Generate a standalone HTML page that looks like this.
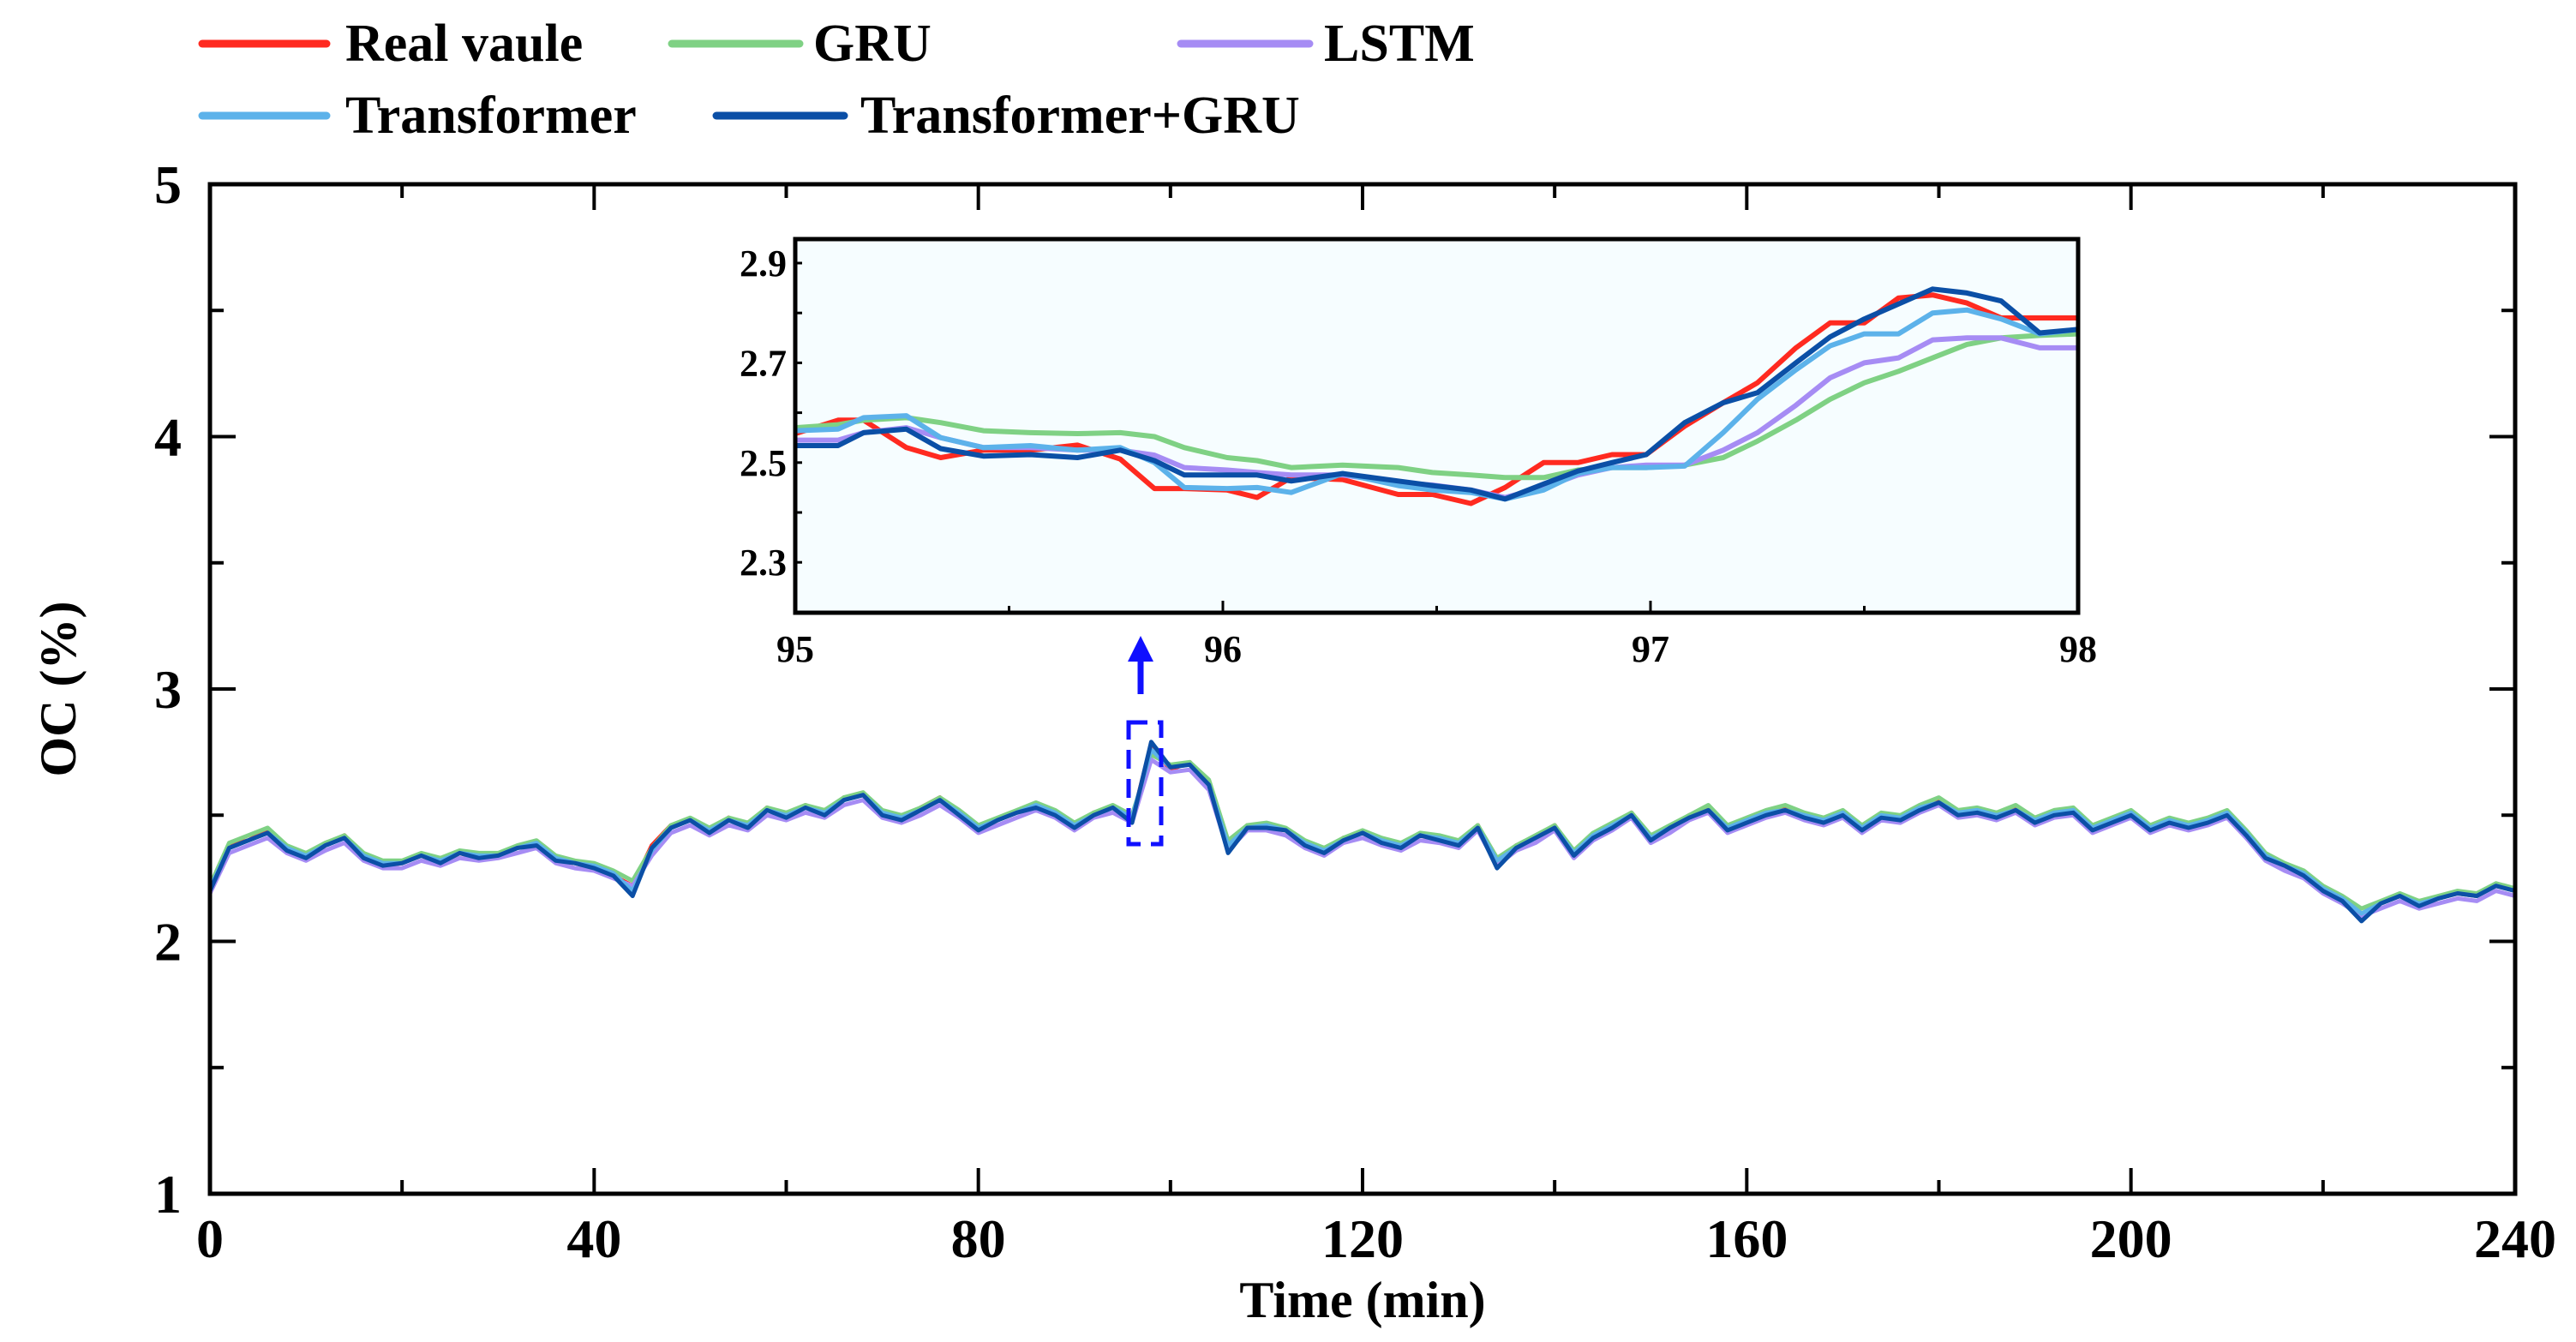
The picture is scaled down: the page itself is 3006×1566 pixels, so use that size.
<!DOCTYPE html>
<html><head><meta charset="utf-8">
<style>
html,body{margin:0;padding:0;background:#fff;}
svg{display:block;font-family:"Liberation Serif",serif;font-weight:bold;}
</style></head>
<body>
<svg id="chart" width="3006" height="1566" viewBox="0 0 3006 1566" xmlns="http://www.w3.org/2000/svg">
<defs>
<clipPath id="mainClip"><rect x="245" y="215" width="2690" height="1178"/></clipPath>
<clipPath id="insetClip"><rect x="928" y="279" width="1497" height="436"/></clipPath>
</defs>
<g id="legend">
<g><line x1="236" y1="51" x2="381" y2="51" stroke="#ff2a20" stroke-width="9" stroke-linecap="round"/><text x="403" y="71" font-size="62">Real vaule</text></g>
<g><line x1="784" y1="51" x2="933" y2="51" stroke="#7fd184" stroke-width="9" stroke-linecap="round"/><text x="949" y="71" font-size="62">GRU</text></g>
<g><line x1="1378" y1="51" x2="1528" y2="51" stroke="#a68cf4" stroke-width="9" stroke-linecap="round"/><text x="1545" y="71" font-size="62">LSTM</text></g>
<g><line x1="236" y1="135" x2="381" y2="135" stroke="#5cb2ea" stroke-width="9" stroke-linecap="round"/><text x="403" y="155" font-size="62">Transformer</text></g>
<g><line x1="836" y1="135" x2="985" y2="135" stroke="#0b4fa6" stroke-width="9" stroke-linecap="round"/><text x="1004" y="155" font-size="62">Transformer+GRU</text></g>
</g>
<g id="mainSeries" clip-path="url(#mainClip)"></g>
<g id="mainAxes"></g>
<rect x="928" y="279" width="1497" height="436" fill="#f6fdff"/>
<g id="insetSeries" clip-path="url(#insetClip)"></g>
<g id="insetAxes"></g>
<rect x="1317" y="843" width="38" height="142" fill="none" stroke="#1010ff" stroke-width="5" stroke-dasharray="22,12"/>
<g>
<line x1="1331" y1="810" x2="1331" y2="765" stroke="#1010ff" stroke-width="7"/>
<polygon points="1316,772 1346,772 1331,742" fill="#1010ff"/>
</g>
<text transform="translate(88,804) rotate(-90)" text-anchor="middle" font-size="60">OC (%)</text>
<text x="1590" y="1537" text-anchor="middle" font-size="60">Time (min)</text>
</svg>
<script>
const NS="http://www.w3.org/2000/svg";
// main chart data (time step 2 min)
const timeStart=0, timeStep=2;
const realVals=[2.20,2.38,2.40,2.44,2.36,2.33,2.38,2.42,2.33,2.30,2.31,2.34,2.31,2.35,2.33,2.34,2.37,2.39,2.32,2.31,2.29,2.26,2.22,2.38,2.46,2.48,2.43,2.49,2.45,2.53,2.49,2.54,2.50,2.57,2.58,2.50,2.48,2.53,2.57,2.50,2.44,2.48,2.51,2.54,2.50,2.45,2.51,2.53,2.48,2.78,2.68,2.71,2.62,2.36,2.46,2.45,2.44,2.38,2.35,2.41,2.43,2.39,2.37,2.42,2.40,2.38,2.46,2.30,2.38,2.41,2.46,2.34,2.42,2.46,2.51,2.40,2.45,2.50,2.53,2.44,2.48,2.51,2.53,2.50,2.47,2.51,2.44,2.50,2.48,2.53,2.56,2.50,2.52,2.49,2.53,2.47,2.50,2.52,2.44,2.48,2.50,2.44,2.48,2.45,2.48,2.51,2.42,2.33,2.30,2.26,2.20,2.16,2.10,2.15,2.18,2.14,2.17,2.19,2.18,2.22,2.20];
const gruVals=[2.22,2.39,2.42,2.45,2.38,2.35,2.39,2.42,2.35,2.32,2.32,2.35,2.33,2.36,2.35,2.35,2.38,2.40,2.34,2.32,2.31,2.28,2.24,2.37,2.46,2.49,2.45,2.49,2.47,2.53,2.51,2.54,2.52,2.57,2.59,2.52,2.50,2.53,2.57,2.52,2.46,2.49,2.52,2.55,2.52,2.47,2.51,2.54,2.50,2.74,2.70,2.71,2.64,2.40,2.46,2.47,2.45,2.40,2.37,2.41,2.44,2.41,2.39,2.43,2.42,2.40,2.46,2.33,2.38,2.42,2.46,2.36,2.43,2.47,2.51,2.42,2.46,2.50,2.54,2.46,2.49,2.52,2.54,2.51,2.49,2.52,2.46,2.51,2.50,2.54,2.57,2.52,2.53,2.51,2.54,2.49,2.52,2.53,2.46,2.49,2.52,2.46,2.49,2.47,2.49,2.52,2.44,2.35,2.31,2.28,2.22,2.18,2.13,2.16,2.19,2.16,2.18,2.20,2.19,2.23,2.21];
const lstmVals=[2.19,2.35,2.38,2.41,2.35,2.32,2.36,2.39,2.32,2.29,2.29,2.32,2.30,2.33,2.32,2.33,2.35,2.37,2.31,2.29,2.28,2.25,2.22,2.34,2.43,2.46,2.42,2.46,2.44,2.50,2.48,2.51,2.49,2.54,2.56,2.49,2.47,2.50,2.54,2.49,2.43,2.46,2.49,2.52,2.49,2.44,2.49,2.51,2.47,2.72,2.67,2.68,2.60,2.36,2.44,2.44,2.42,2.37,2.34,2.39,2.41,2.38,2.36,2.40,2.39,2.37,2.44,2.30,2.36,2.39,2.44,2.33,2.40,2.44,2.49,2.39,2.43,2.48,2.51,2.43,2.46,2.49,2.51,2.48,2.46,2.49,2.43,2.48,2.47,2.51,2.54,2.49,2.50,2.48,2.51,2.46,2.49,2.50,2.43,2.46,2.49,2.43,2.46,2.44,2.46,2.49,2.41,2.32,2.28,2.25,2.19,2.15,2.10,2.13,2.16,2.13,2.15,2.17,2.16,2.20,2.18];
const transVals=[2.21,2.37,2.40,2.43,2.37,2.34,2.38,2.41,2.34,2.31,2.31,2.34,2.32,2.35,2.34,2.34,2.37,2.39,2.33,2.31,2.30,2.27,2.20,2.36,2.45,2.48,2.44,2.48,2.46,2.52,2.50,2.53,2.51,2.56,2.58,2.51,2.49,2.52,2.56,2.51,2.45,2.48,2.51,2.54,2.51,2.46,2.50,2.53,2.49,2.76,2.69,2.70,2.62,2.38,2.45,2.46,2.44,2.39,2.36,2.40,2.43,2.40,2.38,2.42,2.41,2.39,2.45,2.32,2.37,2.41,2.45,2.35,2.42,2.46,2.50,2.41,2.45,2.49,2.52,2.45,2.48,2.51,2.52,2.50,2.48,2.51,2.45,2.50,2.49,2.53,2.55,2.51,2.52,2.50,2.52,2.48,2.51,2.52,2.45,2.48,2.51,2.45,2.48,2.46,2.48,2.51,2.43,2.34,2.30,2.27,2.21,2.17,2.11,2.15,2.18,2.15,2.17,2.19,2.18,2.22,2.20];
const tgruVals=[2.20,2.37,2.40,2.43,2.36,2.33,2.38,2.41,2.33,2.30,2.31,2.34,2.31,2.35,2.33,2.34,2.37,2.38,2.32,2.31,2.29,2.26,2.18,2.37,2.45,2.48,2.43,2.48,2.45,2.52,2.49,2.53,2.50,2.56,2.58,2.50,2.48,2.52,2.56,2.50,2.44,2.48,2.51,2.53,2.50,2.45,2.50,2.53,2.47,2.79,2.69,2.70,2.62,2.35,2.45,2.45,2.44,2.38,2.35,2.40,2.43,2.39,2.37,2.42,2.40,2.38,2.45,2.29,2.37,2.41,2.45,2.34,2.41,2.45,2.50,2.40,2.45,2.49,2.52,2.44,2.47,2.50,2.52,2.49,2.47,2.50,2.44,2.49,2.48,2.52,2.55,2.50,2.51,2.49,2.52,2.47,2.50,2.51,2.44,2.47,2.50,2.44,2.47,2.45,2.47,2.50,2.42,2.33,2.30,2.26,2.20,2.16,2.08,2.15,2.18,2.14,2.17,2.19,2.18,2.22,2.20];
const xTicks=[0,40,80,120,160,200,240];
const yTicks=[1,2,3,4,5];
// inset data
const insetTimes=[95.00,95.10,95.16,95.26,95.34,95.44,95.55,95.66,95.76,95.84,95.91,96.01,96.08,96.16,96.28,96.41,96.49,96.58,96.66,96.75,96.83,96.91,96.99,97.08,97.17,97.25,97.34,97.42,97.50,97.58,97.66,97.74,97.82,97.91,98.00];
const insetReal=[2.558,2.585,2.585,2.53,2.51,2.525,2.525,2.535,2.507,2.448,2.448,2.445,2.43,2.47,2.466,2.436,2.436,2.418,2.45,2.5,2.5,2.516,2.516,2.573,2.62,2.66,2.73,2.78,2.78,2.83,2.836,2.82,2.79,2.79,2.79];
const insetGru=[2.57,2.576,2.585,2.59,2.58,2.564,2.56,2.558,2.56,2.552,2.53,2.51,2.504,2.49,2.495,2.49,2.48,2.475,2.47,2.47,2.485,2.49,2.49,2.495,2.51,2.543,2.585,2.627,2.66,2.683,2.71,2.737,2.75,2.755,2.758];
const insetLstm=[2.545,2.545,2.56,2.57,2.55,2.53,2.53,2.525,2.525,2.515,2.49,2.485,2.48,2.475,2.475,2.46,2.455,2.445,2.43,2.45,2.475,2.49,2.495,2.495,2.525,2.56,2.615,2.67,2.70,2.71,2.746,2.75,2.75,2.73,2.73];
const insetTrans=[2.564,2.567,2.59,2.594,2.55,2.53,2.534,2.525,2.53,2.50,2.45,2.448,2.45,2.44,2.478,2.454,2.445,2.44,2.427,2.445,2.478,2.49,2.49,2.493,2.56,2.627,2.686,2.734,2.758,2.758,2.80,2.806,2.788,2.758,2.767];
const insetTgru=[2.534,2.534,2.56,2.567,2.528,2.513,2.516,2.51,2.525,2.504,2.475,2.475,2.475,2.463,2.478,2.463,2.454,2.445,2.427,2.457,2.483,2.50,2.516,2.58,2.62,2.64,2.70,2.752,2.788,2.818,2.848,2.84,2.824,2.76,2.767];
const insetXTicks=[95,96,97,98];
const insetYTicks=[2.3,2.5,2.7,2.9];

const X=t=>245+(t/240)*2690;
const Y=v=>1393-(v-1)*294.5;
const IX=m=>928+(m-95)/3*1497;
const IY=v=>307+(2.9-v)*582;

function mk(tag,attrs,parent){const e=document.createElementNS(NS,tag);for(const k in attrs)e.setAttribute(k,attrs[k]);parent.appendChild(e);return e;}

const mainG=document.getElementById('mainSeries');
const series=[["real-value-line",realVals,"#ff2a20"],["gru-line",gruVals,"#7fd184"],["lstm-line",lstmVals,"#a68cf4"],["transformer-line",transVals,"#5cb2ea"],["transformer-gru-line",tgruVals,"#0b4fa6"]];
series.forEach(s=>{
  const pts=s[1].map((v,i)=>X(timeStart+i*timeStep).toFixed(1)+","+Y(v).toFixed(1)).join(" ");
  const p=mk('polyline',{points:pts,fill:"none",stroke:s[2],"stroke-width":5,"stroke-linejoin":"round"},mainG);
  
  
});
const ax=document.getElementById('mainAxes');
const frame=mk('rect',{x:245,y:215,width:2690,height:1178,fill:"none",stroke:"#000","stroke-width":5},ax);


for(let t=0;t<=240;t+=20){
  const major=t%40===0, L=major?30:16;
  mk('line',{x1:X(t),y1:1393,x2:X(t),y2:1393-L,stroke:"#000","stroke-width":4},ax);
  mk('line',{x1:X(t),y1:215,x2:X(t),y2:215+L,stroke:"#000","stroke-width":4},ax);
}
for(let v=1;v<=5;v+=0.5){
  const major=Number.isInteger(v), L=major?30:16;
  mk('line',{x1:245,y1:Y(v),x2:245+L,y2:Y(v),stroke:"#000","stroke-width":4},ax);
  mk('line',{x1:2935,y1:Y(v),x2:2935-L,y2:Y(v),stroke:"#000","stroke-width":4},ax);
}
xTicks.forEach(t=>{
  const tx=mk('text',{x:X(t),y:1467,"text-anchor":"middle","font-size":64},ax);
  tx.textContent=t;
  
  
});
yTicks.forEach(v=>{
  const tx=mk('text',{x:212,y:Y(v)+22,"text-anchor":"end","font-size":64},ax);
  tx.textContent=v;
  
  
});

const inG=document.getElementById('insetSeries');
const iseries=[["inset-real-line",insetReal,"#ff2a20"],["inset-gru-line",insetGru,"#7fd184"],["inset-lstm-line",insetLstm,"#a68cf4"],["inset-transformer-line",insetTrans,"#5cb2ea"],["inset-transformer-gru-line",insetTgru,"#0b4fa6"]];
iseries.forEach(s=>{
  const pts=s[1].map((v,i)=>IX(insetTimes[i]).toFixed(1)+","+IY(v).toFixed(1)).join(" ");
  const p=mk('polyline',{points:pts,fill:"none",stroke:s[2],"stroke-width":6,"stroke-linejoin":"round"},inG);
  
  
});
const iax=document.getElementById('insetAxes');
const iframe=mk('rect',{x:928,y:279,width:1497,height:436,fill:"none",stroke:"#000","stroke-width":5},iax);


for(let m=95;m<=98.001;m+=0.5){
  const major=Math.abs(m-Math.round(m))<0.01, L=major?14:8;
  mk('line',{x1:IX(m),y1:715,x2:IX(m),y2:715-L,stroke:"#000","stroke-width":3},iax);
}
for(let v=2.2;v<=2.9001;v+=0.1){
  mk('line',{x1:928,y1:IY(v),x2:936,y2:IY(v),stroke:"#000","stroke-width":3},iax);
}
insetXTicks.forEach(m=>{
  const tx=mk('text',{x:IX(m),y:772,"text-anchor":"middle","font-size":44},iax);
  tx.textContent=m;
  
  
});
insetYTicks.forEach(v=>{
  const tx=mk('text',{x:918,y:IY(v)+15,"text-anchor":"end","font-size":44},iax);
  tx.textContent=v.toFixed(1);
  
  
});
</script>
</body></html>
